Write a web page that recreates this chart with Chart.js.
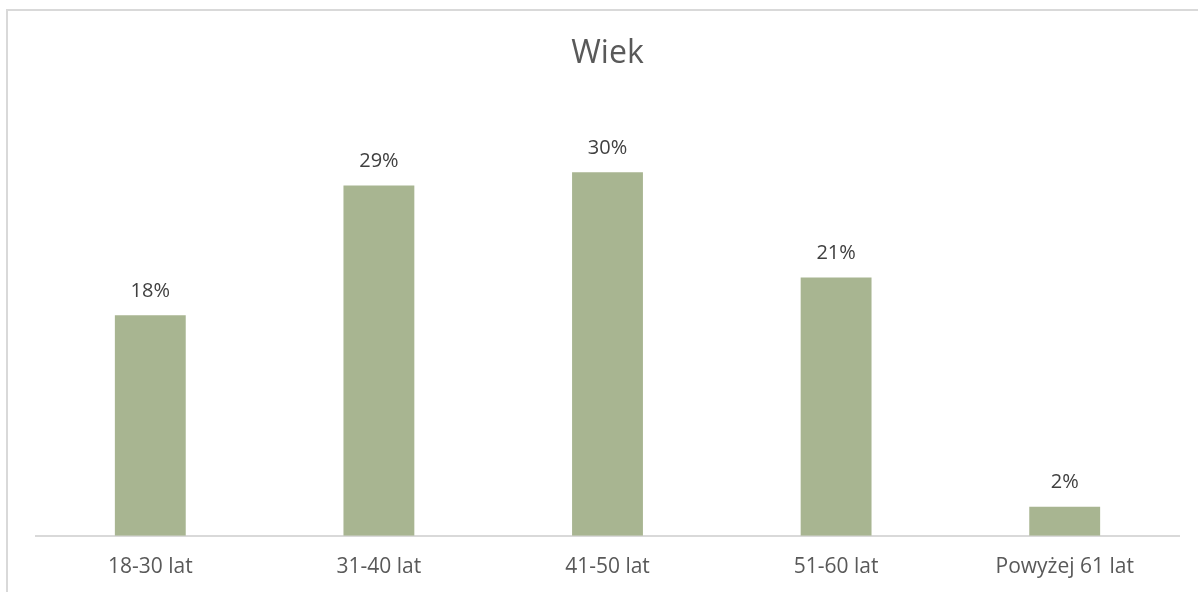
<!DOCTYPE html>
<html lang="pl">
<head>
  <meta charset="UTF-8">
  <title>Wiek</title>
  <script src="https://cdn.jsdelivr.net/npm/chart.js"></script>
  <style>
    body { margin: 0; overflow: hidden; background: white; }
    #wrap { position: absolute; left: 0; top: 0; width: 1198px; height: 599px; }
    #frame {
      position: absolute; left: 6px; top: 9px; width: 1300px; height: 700px;
      border: 2px solid #D9D9D9; pointer-events: none;
    }
  </style>
</head>
<body>
<div id="wrap"><canvas id="chart"></canvas></div>
<div id="frame"></div>
<script>
const categories = ["18-30 lat", "31-40 lat", "41-50 lat", "51-60 lat", "Powyżej 61 lat"];
const shares = [18.2, 28.9, 30.0, 21.3, 2.4];

const FONT = "'Open Sans', 'Liberation Sans', sans-serif";

// labels above each bar, rounded like the source
const barLabels = {
  id: 'barLabels',
  afterDatasetsDraw(chart) {
    const ctx = chart.ctx;
    const meta = chart.getDatasetMeta(0);
    ctx.save();
    ctx.font = "20px " + FONT;
    ctx.fillStyle = "#404040";
    ctx.textAlign = "center";
    ctx.textBaseline = "middle";
    meta.data.forEach((bar, i) => {
      ctx.fillText(Math.round(shares[i]) + "%", bar.x, bar.y - 24);
    });
    ctx.restore();
  }
};

new Chart(document.getElementById('chart'), {
  type: 'bar',
  data: {
    labels: categories,
    datasets: [{
      data: shares,
      backgroundColor: '#A8B591',
      categoryPercentage: 1.0,
      barPercentage: 0.31
    }]
  },
  options: {
    responsive: true,
    maintainAspectRatio: false,
    animation: false,
    layout: { padding: { left: 36, right: 19, top: 0, bottom: 0 } },
    plugins: {
      legend: { display: false },
      tooltip: { enabled: false },
      title: {
        display: true,
        text: 'Wiek',
        color: '#595959',
        font: { family: FONT, size: 32, weight: 'normal' },
        padding: { top: 35, bottom: 26 }
      }
    },
    scales: {
      x: {
        grid: { display: false, drawTicks: false },
        border: { display: true, color: '#D9D9D9', width: 2 },
        ticks: {
          color: '#595959',
          font: { family: FONT, size: 21 },
          padding: 19,
          maxRotation: 0,
          autoSkip: false
        }
      },
      y: {
        display: false,
        min: 0,
        max: 36
      }
    }
  },
  plugins: [barLabels]
});
</script>
</body>
</html>
